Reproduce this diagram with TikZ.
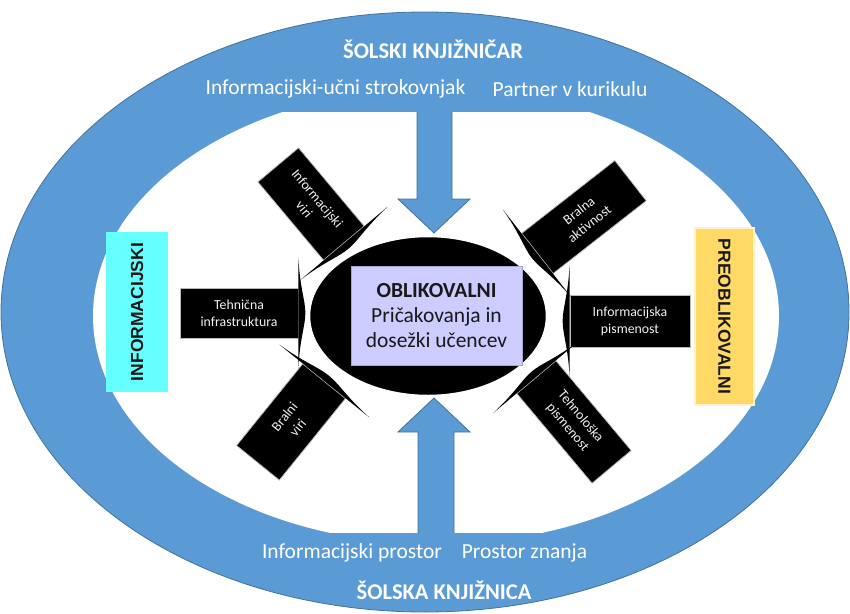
\documentclass[tikz,border=0pt]{standalone}
\usepackage{fontspec}
\setmainfont{Carlito}
\newfontfamily\arialfont{Liberation Sans}
\usetikzlibrary{calc,shapes.geometric}
\definecolor{ringblue}{HTML}{5B9BD5}
\definecolor{ringedge}{HTML}{41719C}
\definecolor{cyanbox}{HTML}{66FFFF}
\definecolor{goldbox}{HTML}{FFD966}
\definecolor{goldedge}{HTML}{FFF2CC}
\definecolor{lav}{HTML}{CCCCFF}
\definecolor{lavedge}{HTML}{A6A6D9}
\tikzset{
  ringtext/.style={text=white, inner sep=0, font=\fontsize{21.5}{25}\selectfont},
  ringtitle/.style={text=white, inner sep=0, font=\fontsize{22.5}{26}\selectfont\bfseries},
  callout/.style={fill=black, draw=gray!55, line width=0.7pt, text=white!95!black, inner sep=0,
                  align=center, font=\fontsize{13.8}{17}\selectfont},
  sidelabel/.style={inner sep=0, text=black!90, font=\arialfont\bfseries\fontsize{17.5}{20}\selectfont},
  bluearrow/.style={fill=ringblue},
}
\newcommand\mybarbs[3]{%
  \coordinate (#1a) at ($(#1.north #2)!-30pt!(#1.south #2)$);
  \coordinate (#1b) at ($(#1.south #2)!-30pt!(#1.north #2)$);
  \coordinate (#1m) at ($(#1.#2)!-7pt!(#1.#3)$);
  \coordinate (#1p) at ($(#1.north #2)!-1.5pt!(#1.north #3)$);
  \coordinate (#1q) at ($(#1.south #2)!-1.5pt!(#1.south #3)$);
  \coordinate (#1r) at ($(#1.north #2)!-7pt!(#1.north #3)$);
  \coordinate (#1s) at ($(#1.south #2)!-7pt!(#1.south #3)$);
  \fill[black] (#1a) .. controls (#1p) and ($(#1m)!0.5!(#1r)$) .. (#1m)
     .. controls ($(#1m)!0.5!(#1s)$) and (#1q) .. (#1b) -- cycle;
}
\begin{document}
\begin{tikzpicture}[x=1pt,y=-1pt]
\useasboundingbox (0,0) rectangle (850,613);
% ring
\fill[ringblue] (425,312) ellipse [x radius=424pt, y radius=300pt];
\draw[ringedge, line width=0.8pt] (425,312) ellipse [x radius=424pt, y radius=300pt];
\begin{scope}
  \clip (0,112) rectangle (850,532);
  \fill[white] (436,316) ellipse [x radius=343pt, y radius=228pt];
\end{scope}
% arrows
\fill[bluearrow] (417,100) -- (417,199) -- (398,199) -- (434,233) -- (470,199) -- (452,199) -- (452,100) -- cycle;
\fill[bluearrow] (418,540) -- (418,432) -- (398,432) -- (434,398) -- (470,432) -- (454,432) -- (454,540) -- cycle;
\begin{scope}
  \clip (0,112) rectangle (850,532);
  \clip (436,316) ellipse [x radius=343pt, y radius=228pt];
  \draw[ringedge, line width=0.8pt] (417,100) -- (417,199) -- (398,199) -- (434,233) -- (470,199) -- (452,199) -- (452,100);
  \draw[ringedge, line width=0.8pt] (418,540) -- (418,432) -- (398,432) -- (434,398) -- (470,432) -- (454,432) -- (454,540);
\end{scope}
% ring texts
\node[ringtitle] (t1) at (433,49) {ŠOLSKI KNJIŽNIČAR};
\node[ringtext] (t2) at (335.5,89) {Informacijski-učni strokovnjak};
\node[ringtext] (t3) at (570,89) {Partner v kurikulu};
\node[ringtext] (b1) at (352,553) {Informacijski prostor};
\node[ringtext] (b2) at (524.5,553) {Prostor znanja};
\node[ringtitle] (b3) at (444,590) {ŠOLSKA KNJIŽNICA};
% side boxes
\node[sidelabel, fill=cyanbox, rotate=90, minimum width=160pt, minimum height=62pt] (lb) at (137,312) {INFORMACIJSKI};
\node[sidelabel, fill=goldbox, draw=goldedge, line width=1.5pt, rotate=-90, minimum width=177pt, minimum height=59pt] (rb) at (724.5,316.5) {PREOBLIKOVALNI};
% callouts
\node[callout, minimum width=118pt, minimum height=50pt] (c1) at (239,313) {Tehnična\\infrastruktura};
\node[callout, minimum width=102pt, minimum height=53pt, rotate=-50] (c2) at (311,204) {Informacijski\\viri};
\node[callout, minimum width=105pt, minimum height=55pt, rotate=51] (c3) at (291,422) {Bralni\\viri};
\node[callout, minimum width=118pt, minimum height=51pt, rotate=38] (c4) at (584,217) {Bralna\\aktivnost};
\node[callout, minimum width=120pt, minimum height=52pt] (c5) at (630,321) {Informacijska\\pismenost};
\node[callout, minimum width=117pt, minimum height=51pt, rotate=-50] (c6) at (574,422) {Tehnološka\\pismenost};
\mybarbs{c1}{east}{west}
\mybarbs{c2}{east}{west}
\mybarbs{c3}{east}{west}
\mybarbs{c4}{west}{east}
\mybarbs{c5}{west}{east}
\mybarbs{c6}{west}{east}
% core
\node[ellipse, fill=black, draw=white, line width=2.5pt, minimum width=238pt, minimum height=160pt, inner sep=0] (core) at (428,316) {};
\node[fill=lav, draw=lavedge, line width=0.6pt, minimum width=171pt, minimum height=99pt, inner sep=0, align=center,
      text=black!90, font=\fontsize{21.5}{25}\selectfont] (goal) at (436.5,315.5)
      {\textbf{OBLIKOVALNI}\\Pričakovanja in\\dosežki učencev};
\end{tikzpicture}
\end{document}
